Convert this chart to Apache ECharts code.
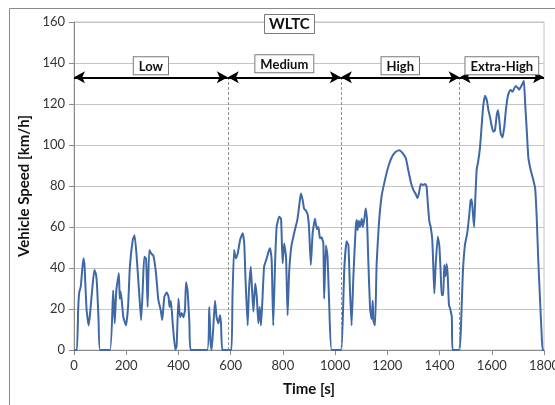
<!DOCTYPE html>
<html>
<head>
<meta charset="utf-8">
<script src="https://cdn.jsdelivr.net/npm/echarts@6/dist/echarts.min.js"></script>
<style>
html,body{margin:0;padding:0;background:#fff;}
#c{width:555px;height:405px;}
</style>
</head>
<body>
<div id="c"></div>
<script>
// Time [s] and speed [km/h]
const lowPhase = [[0,0],[11,0],[16,20],[20,28],[26,31],[36,44.7],[40,42],[48,20],[56,12],[61,17],[70,30],[78,39],[84,37],[88,32],[94,15],[100,0],[138,0],[150,29],[156,13],[162,29],[172,37.5],[175,25],[179,28.5],[189,16],[199,12],[207,21],[214,40.6],[225,53.7],[232,56],[240,45.5],[249,29],[257,14.6],[263,29],[269,45.5],[276,44.7],[282,21],[288,48.8],[296,47],[304,46],[314,37.5],[323,24.4],[332,19.5],[338,14.6],[346,26],[355,28],[362,26],[366,21],[371,24],[378,13],[388,0],[393,2],[400,25],[406,16],[412,18],[419,16],[425,19.5],[429,33],[435,29],[442,13],[447,0],[510,0],[518,21],[523,4],[527,0],[533,10],[540,24],[546,16],[553,13],[559,17],[563,13],[568,0],[589,0]];
const mediumPhase = [[603,0],[607,26],[613,48.8],[620,44.7],[627,47],[636,53.7],[646,57],[652,52],[657,34],[665,12],[670,29],[677,40.6],[682,29],[687,18.7],[694,32.5],[700,26],[706,13],[711,21],[716,12],[721,22.7],[728,40.6],[738,44.7],[745,48],[751,49.6],[757,44],[763,12],[770,42],[776,60],[786,65],[793,64],[799,42.3],[805,52],[812,45.5],[818,17],[824,38],[833,51],[846,58.5],[856,64],[864,72],[869,76.4],[876,73],[881,69],[888,68],[895,66],[900,60],[907,41.5],[914,57],[923,64],[930,59],[936,60],[942,54.5],[948,55],[955,52],[958,25],[965,51],[971,45.5],[978,19.5],[987,0],[1022,0]];
const highPhase = [[1025,0],[1035,39],[1044,53],[1051,51],[1057,29],[1063,12],[1070,36],[1079,60],[1083,63.4],[1086,58.5],[1091,63],[1095,60],[1102,64],[1106,60],[1112,64],[1117,69],[1122,64],[1127,44],[1134,20],[1140,15],[1144,24],[1147,14],[1153,12],[1159,42],[1168,62],[1178,75],[1191,83],[1204,89.5],[1217,94],[1232,96.7],[1246,97.5],[1257,96.3],[1271,93.5],[1280,87.8],[1291,81.3],[1300,78],[1309,76],[1315,74],[1321,76.4],[1328,81],[1338,80.5],[1344,81],[1350,80],[1355,71.5],[1361,62.6],[1366,60],[1372,54],[1376,41],[1380,27.6],[1385,41],[1393,55.3],[1399,51],[1404,39],[1408,26.8],[1414,26.8],[1418,41.5],[1423,36],[1427,42],[1431,37],[1436,22],[1441,20],[1447,16],[1450,0],[1477,0]];
const extraHighPhase = [[1479,0],[1482,11],[1489,37],[1497,51],[1506,57],[1513,65],[1519,73],[1523,73.5],[1527,68],[1532,60],[1536,71],[1542,87.8],[1548,92],[1555,99],[1561,109],[1567,118.7],[1574,124],[1581,122],[1587,117],[1593,113.8],[1600,109],[1606,106.5],[1612,107],[1619,114.6],[1624,117],[1629,112],[1634,105.7],[1641,103.7],[1648,109],[1654,117],[1661,123.6],[1667,126],[1673,126.8],[1680,126],[1686,127.6],[1692,128.8],[1699,128],[1705,127],[1712,128.5],[1718,130],[1723,131.4],[1728,120],[1734,107],[1740,94],[1749,87.8],[1759,83],[1766,79],[1772,65],[1778,44],[1785,24],[1792,5],[1795,0],[1800,0]];

const phaseNames = ['Low','Medium','High','Extra-High'];
const phaseBounds = [0, 589, 1022, 1477, 1800];
const arrowLevel = 133;
const xTicks = {min:0, max:1800, interval:200};
const yTicks = {min:0, max:160, interval:20};

const speedData = [].concat(lowPhase, mediumPhase, highPhase, extraHighPhase);

const FONT = 'Lato, "Open Sans", sans-serif';
const labelBox = {
  show:true, position:'insideMiddleTop', distance:3,
  fontFamily:FONT, fontWeight:'bold', fontSize:13, color:'#111',
  backgroundColor:'#fff', borderColor:'#7a7a7a', borderWidth:1,
  padding:[3,5,1,5]
};
const arrowLines = phaseNames.map((n,i)=>[
  {coord:[phaseBounds[i], arrowLevel], name:n,
   label: Object.assign({}, labelBox, {formatter:n, distance: n==='Medium'?5:3})},
  {coord:[phaseBounds[i+1], arrowLevel]}
]);
const dashLines = phaseBounds.slice(1,4).map(b=>[
  {coord:[b,0], symbol:'none'},{coord:[b,arrowLevel], symbol:'none'}
]);

const chart = echarts.init(document.getElementById('c'));
chart.setOption({
  animation:false,
  backgroundColor:'#fff',
  title:{
    text:'WLTC', left:264, top:14,
    textStyle:{fontFamily:FONT, fontWeight:'bold', fontSize:15, color:'#111'},
    backgroundColor:'#fff', borderColor:'#7a7a7a', borderWidth:1,
    padding:[3,5,2,5]
  },
  graphic:[{type:'rect', silent:true, z:-1,
    shape:{x:9.5, y:8.5, width:600, height:500},
    style:{fill:'none', stroke:'#8a8a8a', lineWidth:1}}],
  grid:{left:74, right:11, top:22, bottom:55, containLabel:false, outerBoundsMode:'none',
    show:true, borderColor:'#c4c4c4', borderWidth:1, backgroundColor:'transparent'},
  xAxis:{
    type:'value', min:xTicks.min, max:xTicks.max, interval:xTicks.interval,
    name:'Time [s]', nameLocation:'middle', nameGap:32,
    nameTextStyle:{fontFamily:FONT, fontWeight:'bold', fontSize:15, color:'#111'},
    axisLine:{show:true, lineStyle:{color:'#8c8c8c', width:1}},
    axisTick:{show:true, length:5, lineStyle:{color:'#8c8c8c'}},
    axisLabel:{fontFamily:FONT, fontSize:13, color:'#333', margin:9, showMaxLabel:true, hideOverlap:false,
      formatter:v=>String(v)},
    splitLine:{show:false}
  },
  yAxis:{
    type:'value', min:yTicks.min, max:yTicks.max, interval:yTicks.interval,
    name:'Vehicle Speed [km/h]', nameLocation:'middle', nameGap:34, nameRotate:90,
    nameTextStyle:{fontFamily:FONT, fontWeight:'bold', fontSize:15, color:'#111'},
    axisLine:{show:true, lineStyle:{color:'#8c8c8c', width:1}},
    axisTick:{show:true, length:5, lineStyle:{color:'#8c8c8c'}},
    axisLabel:{fontFamily:FONT, fontSize:13, color:'#333', margin:9, formatter:v=>String(v)},
    splitLine:{show:true, lineStyle:{color:'#c4c4c4', width:1}}
  },
  series:[
    {
      type:'line', data:speedData, showSymbol:false, smooth:0.15,
      lineStyle:{color:'#3f68a6', width:2}, z:3,
      markLine:{
        silent:true, symbol:['none','none'],
        lineStyle:{color:'#909090', type:[3,2], width:1},
        label:{show:false},
        data:dashLines
      }
    },
    {
      type:'line', data:[], z:4,
      markLine:{
        silent:true, symbol:['arrow','arrow'], symbolSize:[9,11],
        lineStyle:{color:'#000', type:'solid', width:2},
        data:arrowLines
      }
    }
  ]
});
</script>
</body>
</html>
